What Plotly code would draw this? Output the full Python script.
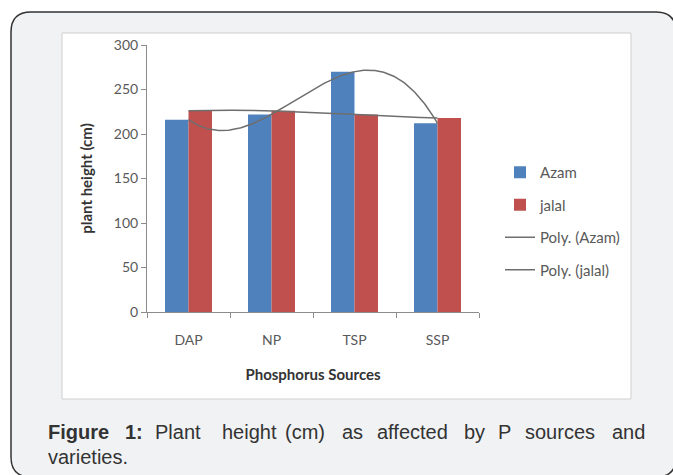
import numpy as np
import plotly.graph_objects as go

# ---- data ----
categories = ["DAP", "NP", "TSP", "SSP"]
azam = [216, 222, 270, 212]
jalal = [226, 226, 222, 218]
y_ticks = [0, 50, 100, 150, 200, 250, 300]

x_pos = np.arange(1, len(categories) + 1)

# Excel-style polynomial (order 3) trendlines fitted to the data
xs = np.linspace(1, len(categories), 200)
azam_fit = np.polyval(np.polyfit(x_pos, azam, 3), xs)
jalal_fit = np.polyval(np.polyfit(x_pos, jalal, 3), xs)

BLUE = "#4F81BD"
RED = "#C0504D"
TREND = "#6E6E6E"
AXIS = "#8C8C8C"
TXT = "#595959"
FONT = "Lato"

fig = go.Figure()
fig.add_trace(go.Bar(x=x_pos, y=azam, name="Azam", marker_color=BLUE,
                     marker_line_width=0, legendgroup="a"))
fig.add_trace(go.Bar(x=x_pos, y=jalal, name="jalal", marker_color=RED,
                     marker_line_width=0, legendgroup="b"))
fig.add_trace(go.Scatter(x=xs, y=azam_fit, mode="lines", name="Poly. (Azam)",
                         line=dict(color=TREND, width=1.5), legendgroup="c"))
fig.add_trace(go.Scatter(x=xs, y=jalal_fit, mode="lines", name="Poly. (jalal)",
                         line=dict(color=TREND, width=1.5), legendgroup="d"))

W, H = 673, 475
L, R, T, B = 147, 479, 45, 312   # plot area in pixels


def px(x):
    return (x - L) / (R - L)


def py(y):
    return (B - y) / (B - T)


def rounded(x0, y0, x1, y1, r):
    X0, X1 = px(x0), px(x1)
    Y0, Y1 = py(y0), py(y1)
    rx = r / (R - L)
    ry = r / (B - T)
    return (f"M {X0+rx},{Y0} L {X1-rx},{Y0} Q {X1},{Y0} {X1},{Y0-ry} "
            f"L {X1},{Y1+ry} Q {X1},{Y1} {X1-rx},{Y1} L {X0+rx},{Y1} "
            f"Q {X0},{Y1} {X0},{Y1+ry} L {X0},{Y0-ry} Q {X0},{Y0} {X0+rx},{Y0} Z")


shapes = [
    dict(type="path", xref="paper", yref="paper", path=rounded(11, 12, 676, 477, 20),
         fillcolor="#F1F2F4", line=dict(color="#333333", width=1.5), layer="below"),
    dict(type="rect", xref="paper", yref="paper", x0=px(62), x1=px(631), y0=py(33), y1=py(399),
         fillcolor="white", line=dict(color="#CFCFCF", width=1), layer="below"),
]

annotations = []
cap_font = dict(family="Liberation Sans, Arial", size=20, color="#333333")
words = [("<b>Figure</b>", 46), ("<b>1:</b>", 123), ("Plant", 153), ("height", 220),
         ("(cm)", 283), ("as", 340), ("affected", 375), ("by", 462), ("P", 496),
         ("sources", 523), ("and", 610)]
for w, x in words:
    annotations.append(dict(text=w, x=px(x), y=py(432), xref="paper", yref="paper",
                            xanchor="left", yanchor="middle", showarrow=False,
                            font=cap_font))
annotations.append(dict(text="varieties.", x=px(46), y=py(457), xref="paper", yref="paper",
                        xanchor="left", yanchor="middle", showarrow=False, font=cap_font))

fig.update_layout(
    width=W, height=H,
    margin=dict(l=L, r=W - R, t=T, b=H - B, pad=0),
    paper_bgcolor="white",
    plot_bgcolor="rgba(0,0,0,0)",
    barmode="group",
    bargap=0.434,
    bargroupgap=0,
    font=dict(family=FONT, size=14, color=TXT),
    shapes=shapes,
    annotations=annotations,
    showlegend=True,
    legend=dict(x=px(500), y=py(156), xanchor="left", yanchor="top",
                bgcolor="rgba(0,0,0,0)", font=dict(family=FONT, size=15, color=TXT),
                traceorder="grouped", tracegroupgap=10, itemwidth=30),
    xaxis=dict(
        range=[0.5, 4.5], tickvals=list(x_pos), ticktext=categories,
        ticks="", showline=True, linecolor=AXIS, linewidth=1, showgrid=False,
        zeroline=False, tickfont=dict(family=FONT, size=14, color=TXT),
        ticklabelstandoff=15,
        minor=dict(tickvals=[0.5, 1.5, 2.5, 3.5, 4.5], ticks="outside", ticklen=5,
                   tickcolor=AXIS, showgrid=False),
        title=dict(text="<b>Phosphorus Sources</b>", standoff=22,
                   font=dict(family=FONT, size=15, color="#333333")),
        fixedrange=True,
    ),
    yaxis=dict(
        range=[0, 300], tickvals=y_ticks, ticks="outside", ticklen=5, tickcolor=AXIS,
        showline=True, linecolor=AXIS, linewidth=1, showgrid=False, zeroline=False,
        tickfont=dict(family=FONT, size=14, color=TXT),
        title=dict(text="<b>plant height (cm)</b>", standoff=17,
                   font=dict(family=FONT, size=15, color="#333333")),
        fixedrange=True,
    ),
)

fig.write_html("out.html", config={"displayModeBar": False},
               post_script="document.body.style.margin='0';")
